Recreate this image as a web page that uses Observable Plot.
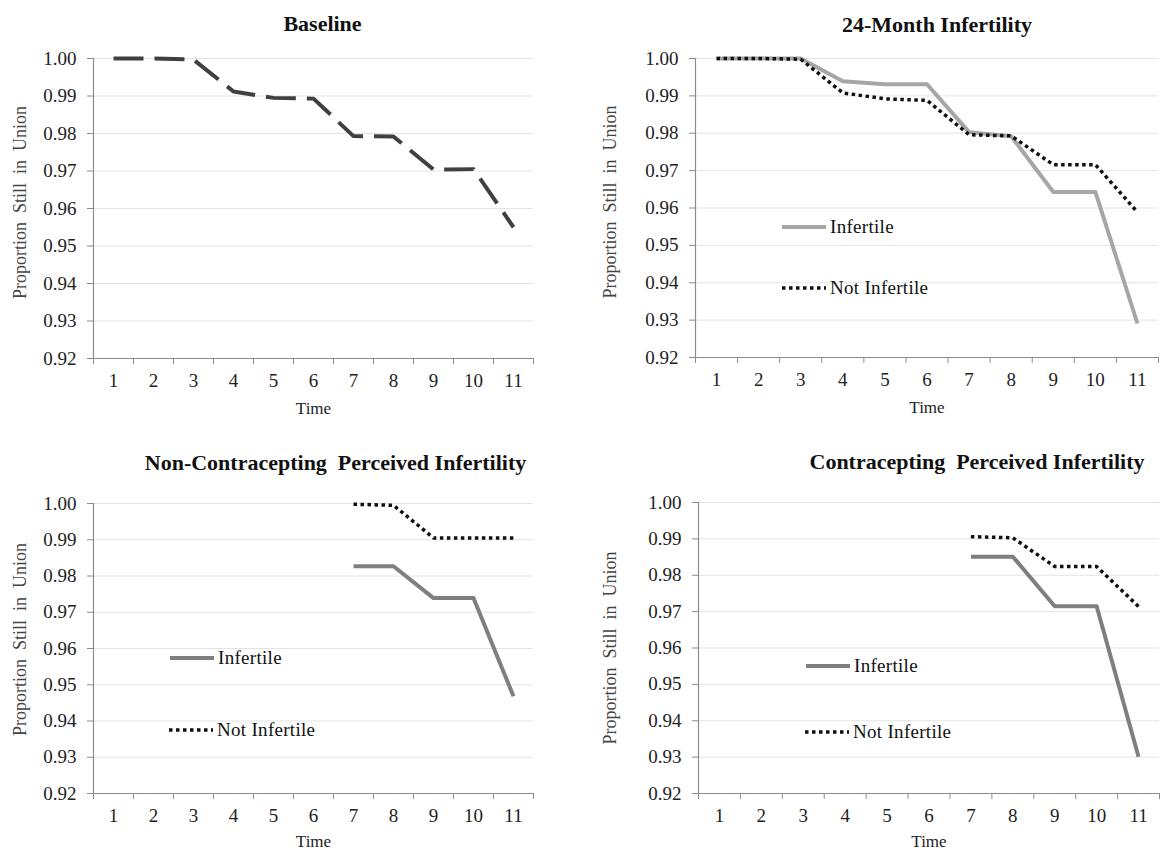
<!DOCTYPE html>
<html><head><meta charset="utf-8">
<script src="https://cdn.jsdelivr.net/npm/d3@7"></script>
<script src="https://cdn.jsdelivr.net/npm/@observablehq/plot@0.6"></script>
<style>
body{margin:0;background:#fff;}
#wrap{position:relative;width:1161px;height:853px;font-family:'Liberation Serif','DejaVu Serif',serif;overflow:hidden;}
#wrap svg, #wrap svg text{font-family:'Liberation Serif','DejaVu Serif',serif !important;}
.panel{position:absolute;}
.legend{position:absolute;display:flex;align-items:center;font-size:19px;color:#111;height:24px;white-space:nowrap;letter-spacing:0.3px;}
.legend svg{display:block;margin-right:4px;}
</style></head><body><div id="wrap"></div>
<script>
// ---- data ----
const time = [1,2,3,4,5,6,7,8,9,10,11];
const timeLate = [7,8,9,10,11];
const yTicks = [0.92,0.93,0.94,0.95,0.96,0.97,0.98,0.99,1.00];
const titles = ["Baseline","24-Month Infertility","Non-Contracepting  Perceived Infertility","Contracepting  Perceived Infertility"];
const seriesNames = ["Infertile","Not Infertile"];
const baseline = [1.000,1.000,0.9997,0.9912,0.9895,0.9893,0.9793,0.9792,0.9704,0.9705,0.9550];
const inf24 = [1.000,1.000,1.000,0.9939,0.9931,0.9931,0.9803,0.9792,0.9643,0.9643,0.9291];
const notInf24 = [1.000,1.000,0.9998,0.9908,0.9892,0.9888,0.9796,0.9793,0.9716,0.9716,0.9589];
const infNonContra = [0.9827,0.9827,0.9739,0.9739,0.9468];
const notInfNonContra = [0.9998,0.9995,0.9905,0.9905,0.9905];
const infContra = [0.9851,0.9851,0.9715,0.9715,0.9301];
const notInfContra = [0.9906,0.9903,0.9824,0.9824,0.9714];

const wrap = document.getElementById("wrap");
const boundaries = time.map(t => t - 0.5).concat([time[time.length-1] + 0.5]);
const axisColor = "#8c8c8c";
const serif = "'Liberation Serif','DejaVu Serif',serif";

function panel({left, top, width, height, mL, mR, mT, mB, title, tdx, tdy, ydx, ydy, timeDy, lines}) {
  const marks = [
    Plot.gridY(yTicks, {stroke: "#e3e3e3", strokeOpacity: 1, strokeWidth: 1}),
    Plot.axisY(yTicks, {tickFormat: d3.format(".2f"), tickSize: 6, tickPadding: 11, stroke: axisColor, label: null, fill: "#222", fontSize: 19}),
    Plot.axisX(boundaries, {tickSize: 6, tickFormat: () => "", stroke: axisColor, label: null}),
    Plot.axisX(time, {tickSize: 0, tickPadding: 15, label: null, fill: "#222", fontSize: 19}),
    Plot.ruleY([0.92], {stroke: axisColor, strokeWidth: 1.2}),
    Plot.ruleX([0.5], {stroke: axisColor, strokeWidth: 1.2}),
    ...lines.map(l => Plot.line(l.x, {x: l.x, y: l.y, stroke: l.stroke, strokeWidth: l.w, strokeDasharray: l.dash, strokeLinejoin: "round", strokeLinecap: "butt"})),
    Plot.text([title], {frameAnchor: "top", dx: tdx, dy: tdy, fontWeight: "bold", fontSize: 22, fill: "#111", lineAnchor: "middle", fontFamily: serif}),
    Plot.text(["Time"], {frameAnchor: "bottom", dy: timeDy, fontSize: 17, fill: "#222", lineAnchor: "middle", fontFamily: serif}),
    Plot.text(["Proportion  Still  in  Union"], {frameAnchor: "left", textAnchor: "middle", dx: ydx, dy: ydy, rotate: -90, fontSize: 18, fill: "#444", lineAnchor: "middle", fontFamily: serif})
  ];
  const p = Plot.plot({
    width, height, marginLeft: mL, marginRight: mR, marginTop: mT, marginBottom: mB,
    style: {fontFamily: serif, fontSize: "19px", background: "transparent", color: "#222", overflow: "visible"},
    x: {domain: [0.5, 11.5]},
    y: {domain: [0.92, 1.0]},
    marks
  });
  const d = document.createElement("div");
  d.className = "panel";
  d.style.left = left + "px"; d.style.top = top + "px";
  d.appendChild(p);
  wrap.appendChild(d);
}

function legend(x, y, kind, color, label) {
  const d = document.createElement("div");
  d.className = "legend";
  d.style.left = x + "px"; d.style.top = (y - 12) + "px";
  const w = 44;
  const dash = kind === "dot" ? "3.5,3.5" : "none";
  const lw = kind === "dot" ? 3.5 : 4;
  d.innerHTML = `<svg width="${w}" height="10"><line x1="0" x2="${w}" y1="5" y2="5" stroke="${color}" stroke-width="${lw}" stroke-dasharray="${dash}"/></svg><span>${label}</span>`;
  wrap.appendChild(d);
}

const lightGray = "#a6a6a6", midGray = "#7f7f7f";

panel({left: 0, top: 0, width: 580, height: 430, mL: 93, mR: 47, mT: 58, mB: 72,
  title: titles[0], tdx: 9, tdy: -35, ydx: -73, ydy: -6, timeDy: 50,
  lines: [{x: time, y: baseline, stroke: "#404040", w: 4, dash: "30,11"}]});

panel({left: 580, top: 0, width: 581, height: 430, mL: 115, mR: 3, mT: 58, mB: 73,
  title: titles[1], tdx: 10, tdy: -34, ydx: -85, ydy: -6, timeDy: 50,
  lines: [{x: time, y: inf24, stroke: lightGray, w: 4, dash: "none"},
          {x: time, y: notInf24, stroke: "#111", w: 3.5, dash: "3.5,3.5"}]});

panel({left: 0, top: 430, width: 580, height: 423, mL: 93, mR: 47, mT: 73, mB: 60,
  title: titles[2], tdx: 22, tdy: -41, ydx: -73, ydy: -9, timeDy: 48,
  lines: [{x: timeLate, y: infNonContra, stroke: midGray, w: 4, dash: "none"},
          {x: timeLate, y: notInfNonContra, stroke: "#111", w: 3.5, dash: "3.5,3.5"}]});

panel({left: 580, top: 430, width: 581, height: 423, mL: 118, mR: 2, mT: 72, mB: 60,
  title: titles[3], tdx: 48, tdy: -41, ydx: -88, ydy: 0, timeDy: 48,
  lines: [{x: timeLate, y: infContra, stroke: midGray, w: 4, dash: "none"},
          {x: timeLate, y: notInfContra, stroke: "#111", w: 3.5, dash: "3.5,3.5"}]});

legend(782, 227, "solid", lightGray, seriesNames[0]);
legend(782, 288, "dot", "#111", seriesNames[1]);
legend(170, 658, "solid", midGray, seriesNames[0]);
legend(169, 730, "dot", "#111", seriesNames[1]);
legend(806, 666, "solid", midGray, seriesNames[0]);
legend(805, 732, "dot", "#111", seriesNames[1]);
</script></body></html>
